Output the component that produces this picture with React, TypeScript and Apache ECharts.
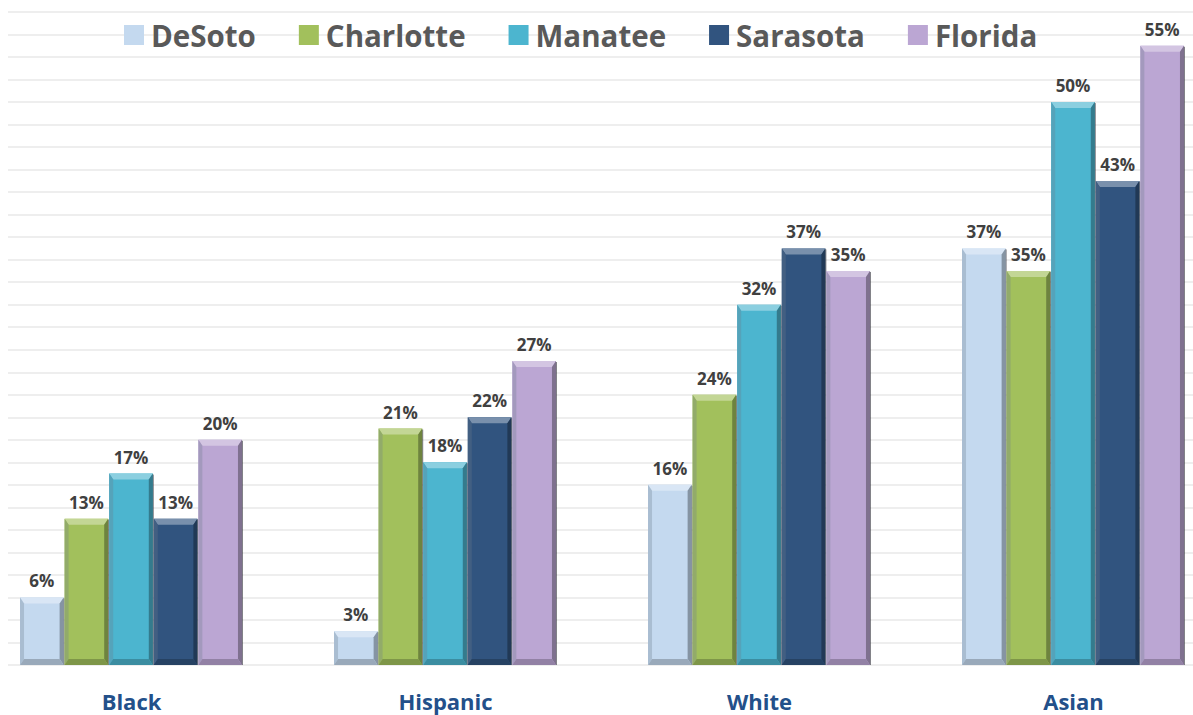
import React, { useEffect, useRef } from "react";
import * as echarts from "echarts";

const categories = ["Black", "Hispanic", "White", "Asian"];
const seriesNames = ["DeSoto", "Charlotte", "Manatee", "Sarasota", "Florida"];
const desoto = [6, 3, 16, 37];
const charlotte = [13, 21, 24, 35];
const manatee = [17, 18, 32, 50];
const sarasota = [13, 22, 37, 43];
const florida = [20, 27, 35, 55];
const allValues = [desoto, charlotte, manatee, sarasota, florida];
const colors = ["#c4d9ef", "#a2c05c", "#4cb5cf", "#31547f", "#bba6d3"];

function mix(hex: string, target: string, t: number) {
  const p = (h: string) => [1, 3, 5].map((i) => parseInt(h.slice(i, i + 2), 16));
  const a = p(hex);
  const b = p(target);
  const c = a.map((v, i) => Math.round(v + (b[i] - v) * t));
  return "#" + c.map((v) => v.toString(16).padStart(2, "0")).join("");
}

function makeRender(si: number, color: string) {
  return (params: any, api: any) => {
    const ci = api.value(0);
    const v = api.value(1);
    const p0 = api.coord([ci, 0]);
    const p1 = api.coord([ci, v]);
    const band = api.size([1, 0])[0];
    const bw = band * 0.142;
    const groupW = bw * 5;
    const x0 = p0[0] - groupW / 2 + si * bw;
    const x1 = x0 + bw - 1;
    const yT = p1[1];
    const yB = p0[1];
    const b = 6;
    const bs = 4;
    return {
      type: "group",
      children: [
        { type: "rect", shape: { x: x0, y: yT, width: x1 - x0, height: yB - yT }, style: { fill: color } },
        {
          type: "polygon",
          shape: { points: [[x0, yT], [x1, yT], [x1 - bs, yT + b], [x0 + bs, yT + b]] },
          style: { fill: mix(color, "#ffffff", 0.35) },
        },
        {
          type: "polygon",
          shape: { points: [[x0, yT], [x0 + bs, yT + b], [x0 + bs, yB - b], [x0, yB]] },
          style: { fill: mix(color, "#6b7a8a", 0.3) },
        },
        {
          type: "polygon",
          shape: { points: [[x1, yT], [x1, yB], [x1 - bs, yB - b], [x1 - bs, yT + b]] },
          style: { fill: mix(color, "#000000", 0.32) },
        },
        {
          type: "polygon",
          shape: { points: [[x0, yB], [x1, yB], [x1 - bs, yB - b], [x0 + bs, yB - b]] },
          style: { fill: mix(color, "#000000", 0.22) },
        },
        {
          type: "line",
          shape: { x1: x1 + 0.5, y1: yT + 1, x2: x1 + 0.5, y2: yB },
          style: { stroke: "rgba(40,40,50,0.6)", lineWidth: 1 },
        },
        {
          type: "text",
          x: (x0 + x1) / 2,
          y: yT - 8,
          style: {
            text: v + "%",
            fill: "#404040",
            fontSize: 17,
            fontWeight: "bold",
            fontFamily: "Open Sans",
            align: "center",
            verticalAlign: "bottom",
          },
        },
      ],
    };
  };
}

export default function App() {
  const ref = useRef<HTMLDivElement>(null);
  useEffect(() => {
    const chart = echarts.init(ref.current!, undefined, { renderer: "svg" });
    chart.setOption({
      animation: false,
      backgroundColor: "#ffffff",
      legend: {
        left: 119,
        top: 15,
        itemWidth: 20,
        itemHeight: 20,
        itemGap: 43,
        icon: "rect",
        data: seriesNames,
        textStyle: { fontSize: 29.5, fontWeight: "bold", color: "#595959", fontFamily: "Open Sans", padding: [0, 0, 0, 2] },
      },
      grid: [
        { left: -25.5, right: -37.5, top: 12, bottom: 50, outerBoundsMode: "none", containLabel: false },
        { left: 8, right: 0, top: 12, bottom: 50 },
      ],
      xAxis: [
        {
          gridIndex: 0,
          type: "category",
          data: categories,
          axisLine: { show: false },
          axisTick: { show: false },
          axisLabel: { margin: 25, fontSize: 22, fontWeight: "bold", color: "#23508a", fontFamily: "Open Sans" },
        },
        { gridIndex: 1, type: "value", show: false, min: 0, max: 1 },
      ],
      yAxis: [
        { gridIndex: 0, type: "value", min: 0, max: 58, show: false },
        {
          gridIndex: 1,
          type: "value",
          min: 0,
          max: 58,
          interval: 2,
          axisLine: { show: false },
          axisTick: { show: false },
          axisLabel: { show: false },
          splitLine: { show: true, lineStyle: { color: "#e9e9e9", width: 1.5 } },
        },
      ],
      series: allValues.map((vals, si) => ({
        name: seriesNames[si],
        type: "custom",
        xAxisIndex: 0,
        yAxisIndex: 0,
        itemStyle: { color: colors[si] },
        data: vals.map((v, ci) => [ci, v]),
        renderItem: makeRender(si, colors[si]),
      })),
    });
    return () => chart.dispose();
  }, []);
  return <div ref={ref} style={{ position: "fixed", left: 0, top: 0, width: 1193, height: 715 }} />;
}
